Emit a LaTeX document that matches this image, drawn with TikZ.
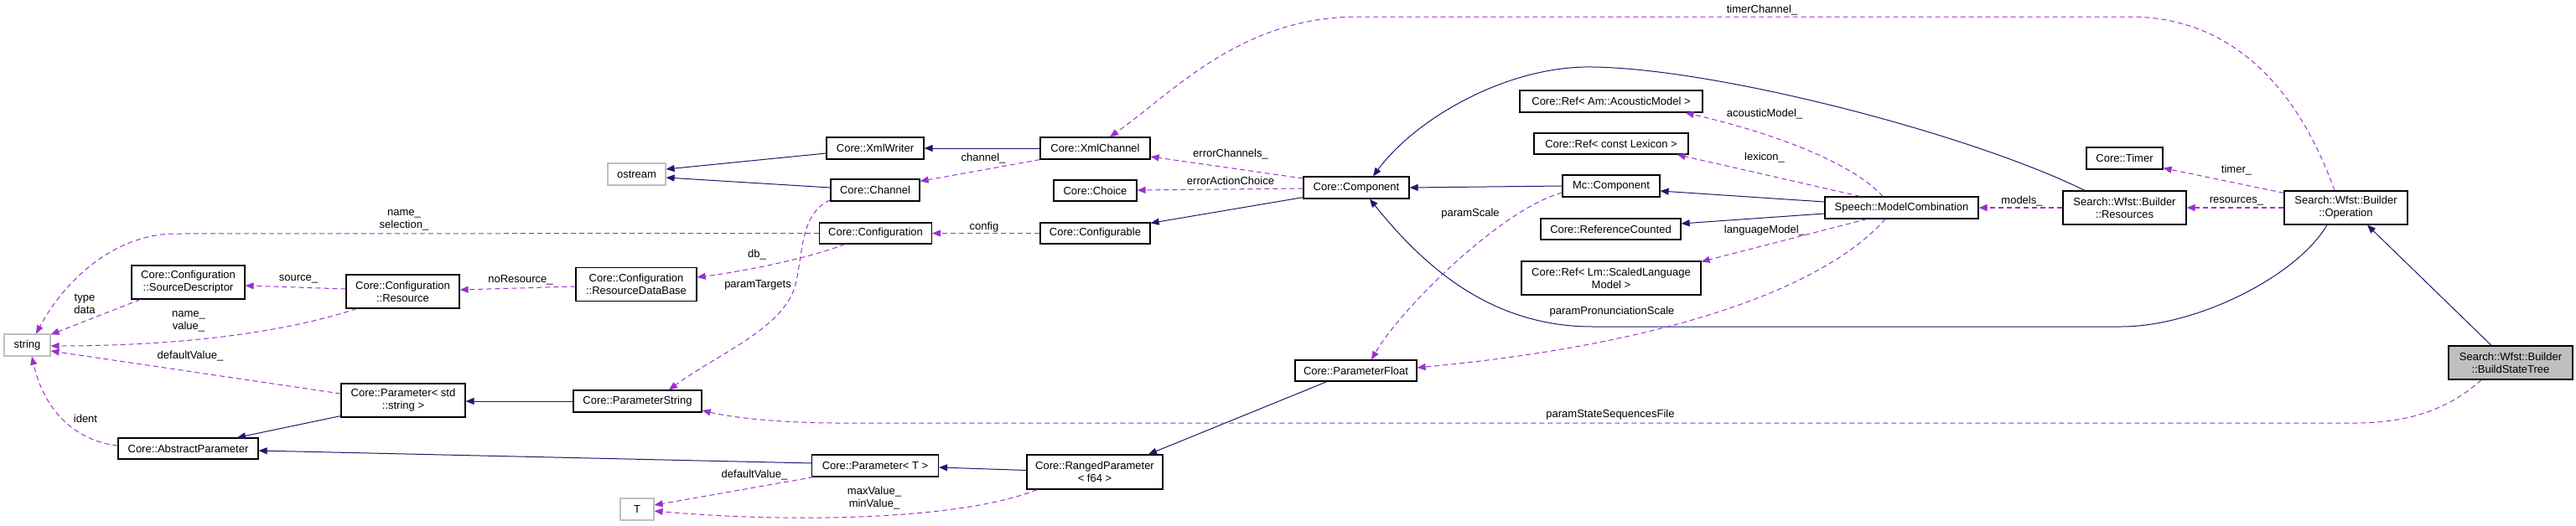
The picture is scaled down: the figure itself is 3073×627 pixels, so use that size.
\documentclass[tikz,border=0pt]{standalone}
\usepackage{fontspec}
\setmainfont{Liberation Sans}
\usetikzlibrary{arrows.meta}
\definecolor{navy}{HTML}{191970}
\definecolor{orchid}{HTML}{9A32CD}
\definecolor{lgray}{HTML}{BFBFBF}
\begin{document}
\begin{tikzpicture}[x=1pt,y=-1pt,
  every node/.style={font=\fontsize{13}{15}\selectfont},
  cls/.style={draw=black, line width=1.2pt, rectangle, inner sep=0pt, minimum height=26pt, align=center},
  ext/.style={cls, draw=lgray},
  inh/.style={draw=navy, line width=1pt, -{Triangle[length=10pt,width=8pt]}},
  mem/.style={draw=orchid, line width=1pt, dash pattern=on 6pt off 4pt, -{Triangle[length=10pt,width=8pt]}},
  memthick/.style={mem, line width=2pt},
  lbl/.style={inner sep=0pt, align=center}
]
\useasboundingbox (0,0) rectangle (3073,627);

% nodes
\node[ext, minimum width=55pt] (string) at (32.5,412) {string};
\node[ext, minimum width=69pt] (ostream) at (759.5,208) {ostream};
\node[ext, minimum width=40pt] (T) at (760,608) {T};
\node[cls, minimum width=135pt, minimum height=40pt] (srcdesc) at (224.5,337) {Core::Configuration\\::SourceDescriptor};
\node[cls, minimum width=135pt, minimum height=40pt] (resource) at (480.5,348) {Core::Configuration\\::Resource};
\node[cls, minimum width=144pt, minimum height=40pt] (rdb) at (759,339.5) {Core::Configuration\\::ResourceDataBase};
\node[cls, minimum width=148pt, minimum height=40pt] (paramstd) at (481,478) {Core::Parameter< std\\::string >};
\node[cls, minimum width=167pt, minimum height=25pt] (absparam) at (224.5,535.5) {Core::AbstractParameter};
\node[cls, minimum width=153pt] (paramstr) at (760.5,479) {Core::ParameterString};
\node[cls, minimum width=116pt] (xmlwriter) at (1044,177) {Core::XmlWriter};
\node[cls, minimum width=106pt] (channel) at (1044,227) {Core::Channel};
\node[cls, minimum width=134pt, minimum height=25pt] (config) at (1044.5,278.5) {Core::Configuration};
\node[cls, minimum width=131pt] (xmlchannel) at (1306.5,177) {Core::XmlChannel};
\node[cls, minimum width=99pt, minimum height=25pt] (choice) at (1306.5,227.5) {Core::Choice};
\node[cls, minimum width=131pt, minimum height=25pt] (configurable) at (1306.5,278.5) {Core::Configurable};
\node[cls, minimum width=151pt] (paramT) at (1044,556) {Core::Parameter< T >};
\node[cls, minimum width=162pt, minimum height=41pt] (ranged) at (1306,563.5) {Core::RangedParameter\\< f64 >};
\node[cls, minimum width=126pt] (component) at (1618,224) {Core::Component};
\node[cls, minimum width=145pt, minimum height=25pt] (pfloat) at (1617.5,442.5) {Core::ParameterFloat};
\node[cls, minimum width=218pt] (acoustic) at (1922,121) {Core::Ref< Am::AcousticModel >};
\node[cls, minimum width=184pt, minimum height=25pt] (lexicon) at (1922,171.5) {Core::Ref< const Lexicon >};
\node[cls, minimum width=116pt] (mccomp) at (1922,222) {Mc::Component};
\node[cls, minimum width=167pt, minimum height=25pt] (refcount) at (1921.5,273.5) {Core::ReferenceCounted};
\node[cls, minimum width=214pt, minimum height=40pt] (scaledlm) at (1922,332) {Core::Ref< Lm::ScaledLanguage\\Model >};
\node[cls, minimum width=183pt] (modelcomb) at (2268.5,248) {Speech::ModelCombination};
\node[cls, minimum width=147pt, minimum height=40pt] (resources) at (2534.5,248) {Search::Wfst::Builder\\::Resources};
\node[cls, minimum width=91pt] (timer) at (2534.5,189) {Core::Timer};
\node[cls, minimum width=147pt, minimum height=40pt] (operation) at (2798.5,248) {Search::Wfst::Builder\\::Operation};
\node[cls, fill=lgray, minimum width=148pt, minimum height=40pt] (bst) at (2995,433) {Search::Wfst::Builder\\::BuildStateTree};

% inheritance edges
\draw[inh] ([yshift=-6pt]xmlwriter.west) -- ([yshift=6pt]ostream.east);
\draw[inh] ([yshift=3pt]channel.west) -- ([yshift=-4pt]ostream.east);
\draw[inh] (xmlchannel.west) -- (xmlwriter.east);
\draw[inh] ([yshift=2pt]component.south west) -- ([yshift=-1pt]configurable.north east);
\draw[inh] (mccomp.west) -- (component.east);
\draw[inh] ([yshift=7pt]modelcomb.west) -- ([yshift=-6pt]mccomp.east);
\draw[inh] ([yshift=-7pt]modelcomb.west) -- ([yshift=6.5pt]refcount.east);
\draw[inh] ([xshift=-47.5pt]resources.north) .. controls (2350,160) and (2050,82) .. (1900,80) .. controls (1800,78) and (1690,140) .. ([xshift=20pt]component.north);
\draw[inh] ([xshift=-22.5pt]operation.south) .. controls (2740,330) and (2620,390) .. (2530,390) -- (1900,390) .. controls (1780,390) and (1700,320) .. ([xshift=16pt]component.south);
\draw[inh] ([xshift=-23pt]bst.north) -- ([xshift=25.5pt]operation.south);
\draw[inh] (paramstr.west) -- ([yshift=-1pt]paramstd.east);
\draw[inh] ([yshift=2pt]paramstd.south west) -- ([xshift=58.5pt]absparam.north);
\draw[inh] ([yshift=3pt]paramT.west) -- ([yshift=-2.5pt]absparam.east);
\draw[inh] ([yshift=2pt]ranged.west) -- ([yshift=-2pt]paramT.east);
\draw[inh] ([xshift=-34.5pt]pfloat.south) -- ([xshift=64pt]ranged.north);

% member edges
\draw[mem] (config.west) -- (210,279) .. controls (140,279) and (80,330) .. ([xshift=10.5pt]string.north);
\node[lbl] (l1) at (482,263) {name\_\\selection\_};
\draw[mem] ([xshift=11pt]srcdesc.south west) -- ([yshift=-1pt]string.north east);
\node[lbl] (l2) at (101,363) {type\\data};
\draw[mem] ([xshift=13pt]resource.south west) .. controls (330,400) and (200,413) .. ([yshift=-1pt]string.east);
\node[lbl] (l3) at (225,384) {name\_\\value\_};
\draw[mem] ([yshift=8pt]paramstd.west) -- ([yshift=-7pt]string.east);
\node[lbl] (l4) at (227,425) {defaultValue\_};
\draw[mem] ([yshift=3.5pt]absparam.west) .. controls (100,528) and (55,500) .. ([xshift=5.5pt]string.south);
\node[lbl] (l5) at (102,500) {ident};
\draw[mem] ([yshift=3pt]resource.west) -- ([yshift=-4pt]srcdesc.east);
\node[lbl] (l6) at (356,333) {source\_};
\draw[mem] ([yshift=-2.5pt]rdb.west) -- ([yshift=2pt]resource.east);
\node[lbl] (l7) at (621,334) {noResource\_};
\draw[mem] ([xshift=-36.5pt]config.south) .. controls (960,310) and (880,325) .. ([yshift=8.5pt]rdb.east);
\node[lbl] (l8) at (903,304) {db\_};
\draw[mem] (configurable.west) -- (config.east);
\node[lbl] (l9) at (1174,271) {config};
\draw[mem] (xmlchannel.south west) -- ([yshift=-3pt]channel.north east);
\node[lbl] (l10) at (1173,189) {channel\_};
\draw[mem] ([yshift=11pt]component.west) -- ([yshift=-10pt]xmlchannel.east);
\node[lbl] (l11) at (1468,184) {errorChannels\_};
\draw[mem] ([yshift=-1pt]component.west) -- ([yshift=0.5pt]choice.east);
\node[lbl] (l12) at (1468,216) {errorActionChoice};
\draw[mem] ([yshift=2pt]channel.south west) .. controls (955,255) and (958,300) .. (950,335) .. controls (940,390) and (860,420) .. ([xshift=37.5pt]paramstr.north);
\node[lbl] (l13) at (904,340) {paramTargets};
\draw[mem] ([xshift=-22.5pt]modelcomb.north) .. controls (2210,195) and (2120,160) .. ([xshift=-21pt]acoustic.south east);
\node[lbl] (l14) at (2105,136) {acousticModel\_};
\draw[mem] ([xshift=-49.5pt]modelcomb.north) -- ([xshift=-14pt]lexicon.south east);
\node[lbl] (l15) at (2105,188) {lexicon\_};
\draw[mem] ([xshift=-41.5pt]modelcomb.south) -- ([yshift=-1pt]scaledlm.north east);
\node[lbl] (l16) at (2105,275) {languageModel\_};
\draw[mem] ([yshift=-8pt]mccomp.west) .. controls (1790,250) and (1670,370) .. ([xshift=18.5pt]pfloat.north);
\node[lbl] (l17) at (1754,255) {paramScale};
\draw[mem] ([xshift=-19.5pt]modelcomb.south) .. controls (2180,340) and (2000,410) .. ([yshift=3.5pt]pfloat.east);
\node[lbl] (l18) at (1923,372) {paramPronunciationScale};
\draw[memthick] (resources.west) -- (modelcomb.east);
\node[lbl] (l19) at (2412,240) {models\_};
\draw[memthick] (operation.west) -- (resources.east);
\node[lbl] (l20) at (2668,240) {resources\_};
\draw[mem] ([yshift=-3pt]operation.north west) -- ([yshift=2pt]timer.south east);
\node[lbl] (l21) at (2668,203) {timer\_};
\draw[mem] ([xshift=-13.5pt]operation.north) .. controls (2750,130) and (2680,20) .. (2540,20) -- (1620,20) .. controls (1480,20) and (1400,110) .. ([xshift=17.5pt]xmlchannel.north);
\node[lbl] (l22) at (2102,12) {timerChannel\_};
\draw[mem] ([xshift=-35pt]bst.south) .. controls (2920,490) and (2870,505) .. (2810,505) -- (1000,505) .. controls (940,505) and (880,500) .. ([yshift=-11pt]paramstr.east);
\node[lbl] (l23) at (1921,495) {paramStateSequencesFile};
\draw[mem] ([xshift=2.5pt]paramT.south west) -- ([yshift=5pt]T.east);
\node[lbl] (l24) at (900,567) {defaultValue\_};
\draw[mem] ([xshift=-69pt]ranged.south) .. controls (1150,620) and (950,625) .. ([yshift=-2pt]T.east);
\node[lbl] (l25) at (1043,595) {maxValue\_\\minValue\_};
\end{tikzpicture}
\end{document}
